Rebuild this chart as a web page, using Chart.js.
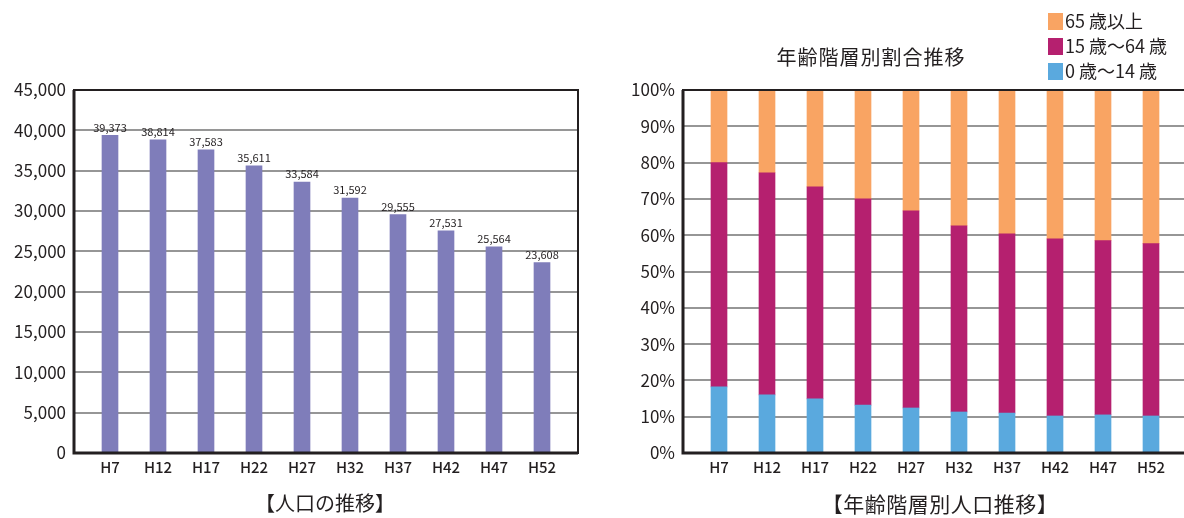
<!DOCTYPE html>
<html lang="ja">
<head>
<meta charset="utf-8">
<script src="https://cdn.jsdelivr.net/npm/chart.js@4.4.0/dist/chart.umd.min.js"></script>
<style>
  html, body { margin: 0; padding: 0; background: #fff; }
  body { width: 1184px; height: 518px; position: relative; overflow: hidden;
         font-family: "Noto Sans CJK JP", "Noto Sans", sans-serif; color: #231f20; }
  .box { position: absolute; }
  .caption { position: absolute; text-align: center; font-size: 20px; line-height: 24px; }
  .legend { position: absolute; left: 1048px; top: 8px; font-size: 18px; line-height: 25px; }
  .legend div { white-space: nowrap; }
  .legend span { display: inline-block; width: 15px; height: 17px; vertical-align: -2px; margin-right: 2px; }
</style>
</head>
<body>
<div class="box" style="left:0;top:0;width:600px;height:518px"><canvas id="popChart" width="600" height="518"></canvas></div>
<div class="box" style="left:600px;top:0;width:600px;height:518px"><canvas id="ageChart" width="600" height="518"></canvas></div>

<div class="caption" style="left:671px;top:45px;width:400px;font-size:20px;letter-spacing:1px">年齢階層別割合推移</div>
<div class="legend">
  <div><span style="background:#f9a463"></span>65 歳以上</div>
  <div><span style="background:#b5206f"></span>15 歳〜64 歳</div>
  <div><span style="background:#5aa9de"></span>0 歳〜14 歳</div>
</div>
<div class="caption" style="left:125px;top:491px;width:400px">【人口の推移】</div>
<div class="caption" style="left:740px;top:491px;width:400px;font-size:21px;letter-spacing:0.5px">【年齢階層別人口推移】</div>

<script>
// categories and values
const years = ['H7', 'H12', 'H17', 'H22', 'H27', 'H32', 'H37', 'H42', 'H47', 'H52'];
const population = [39373, 38814, 37583, 35611, 33584, 31592, 29555, 27531, 25564, 23608];

// age shares (%), bottom to top
const age0to14 = [18.2, 16.0, 14.9, 13.2, 12.4, 11.3, 11.0, 10.2, 10.5, 10.2];
const age15to64 = [61.8, 61.2, 58.4, 56.8, 54.3, 51.3, 49.4, 48.8, 48.0, 47.5];
const age65plus = [20.0, 22.8, 26.7, 30.0, 33.3, 37.4, 39.6, 41.0, 41.5, 42.3];

const INK = '#231f20';
const GRID = '#969696';
const FONT = '"Noto Sans CJK JP", "Noto Sans", sans-serif';

// draw the box round the plot area (left & bottom heavier)
const frame = {
    id: 'frame',
    afterDatasetsDraw(chart) {
        const { ctx, chartArea: a } = chart;
        ctx.save();
        ctx.strokeStyle = INK;
        ctx.lineWidth = 2;
        ctx.strokeRect(a.left, a.top, a.right - a.left, a.bottom - a.top);
        ctx.lineWidth = 3;
        ctx.beginPath();
        ctx.moveTo(a.left, a.top);
        ctx.lineTo(a.left, a.bottom);
        ctx.lineTo(a.right, a.bottom);
        ctx.stroke();
        ctx.restore();
    }
};

// value labels above the population bars
const barLabels = {
    id: 'barLabels',
    afterDatasetsDraw(chart) {
        const ctx = chart.ctx;
        const meta = chart.getDatasetMeta(0);
        ctx.save();
        ctx.font = '11px ' + FONT;
        ctx.fillStyle = INK;
        ctx.textAlign = 'center';
        ctx.textBaseline = 'middle';
        meta.data.forEach((bar, i) => {
            ctx.fillText(population[i].toLocaleString('en-US'), bar.x, bar.y - 8);
        });
        ctx.restore();
    }
};

const toPoints = arr => arr.map((v, i) => ({ x: i, y: v }));

// x positions: linear index scale so the bars sit 48px apart with 36px margins
function xScale(stacked) {
    return {
        type: 'linear',
        min: -0.75,
        max: 9.75,
        offset: false,
        stacked: stacked,
        afterBuildTicks: s => { s.ticks = years.map((_, i) => ({ value: i })); },
        afterFit: s => { s.height = 30; },
        grid: { display: false, drawTicks: false },
        border: { display: false },
        ticks: {
            autoSkip: false,
            maxRotation: 0,
            padding: 5,
            color: INK,
            font: { family: FONT, size: 15, weight: '500' },
            callback: v => years[v]
        }
    };
}

function yScale(max, step, fmt, stacked) {
    return {
        min: 0,
        max: max,
        stacked: stacked,
        afterFit: s => { s.width = 74; },
        grid: { color: GRID, lineWidth: 2, drawTicks: false },
        border: { display: false },
        ticks: {
            stepSize: step,
            padding: 8,
            color: INK,
            font: { family: FONT, size: 17 },
            callback: fmt
        }
    };
}

new Chart(document.getElementById('popChart'), {
    type: 'bar',
    data: {
        datasets: [{
            label: '人口',
            data: toPoints(population),
            backgroundColor: '#7f7dba',
            barThickness: 16
        }]
    },
    options: {
        responsive: false,
        animation: false,
        events: [],
        layout: { padding: { left: 0, top: 90, right: 22, bottom: 35 } },
        plugins: { legend: { display: false }, tooltip: { enabled: false } },
        scales: {
            x: xScale(false),
            y: yScale(45000, 5000, v => v.toLocaleString('en-US'), false)
        }
    },
    plugins: [frame, barLabels]
});

new Chart(document.getElementById('ageChart'), {
    type: 'bar',
    data: {
        datasets: [
            { label: '0 歳〜14 歳', data: toPoints(age0to14), backgroundColor: '#5aa9de', barThickness: 16 },
            { label: '15 歳〜64 歳', data: toPoints(age15to64), backgroundColor: '#b5206f', barThickness: 16 },
            { label: '65 歳以上', data: toPoints(age65plus), backgroundColor: '#f9a463', barThickness: 16 }
        ]
    },
    options: {
        responsive: false,
        animation: false,
        events: [],
        layout: { padding: { left: 9, top: 90, right: 13, bottom: 35 } },
        plugins: { legend: { display: false }, tooltip: { enabled: false } },
        scales: {
            x: xScale(true),
            y: yScale(100, 10, v => v + '%', true)
        }
    },
    plugins: [frame]
});
</script>
</body>
</html>
